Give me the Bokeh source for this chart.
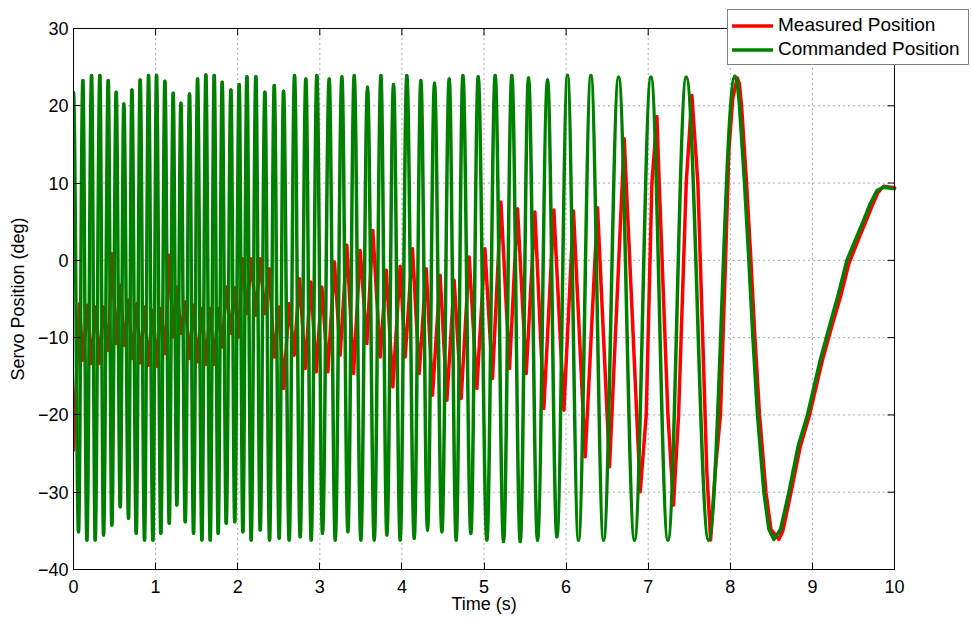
import math
from bokeh.plotting import figure
from bokeh.models import Range1d, FixedTicker, Legend, LegendItem, Title
from bokeh.embed import file_html
from bokeh.resources import INLINE

# ---------------- data ----------------
# Commanded position: successive turning points (peaks / troughs) of the sweep
cmd_time = [0.000, 0.061, 0.114, 0.163, 0.220, 0.264, 0.321, 0.366, 0.423, 0.467,
            0.520, 0.569, 0.613, 0.670, 0.711, 0.764, 0.812, 0.865, 0.914, 0.967,
            1.011, 1.064, 1.113, 1.166, 1.214, 1.259, 1.308, 1.361, 1.413, 1.462,
            1.511, 1.564, 1.612, 1.665, 1.714, 1.762, 1.811, 1.860, 1.917, 1.964,
            2.018, 2.063, 2.112, 2.164, 2.221, 2.274, 2.331, 2.388, 2.445, 2.505,
            2.558, 2.627, 2.692, 2.761, 2.830, 2.895, 2.964, 3.033, 3.114, 3.188,
            3.269, 3.342, 3.419, 3.500, 3.581, 3.663, 3.744, 3.817, 3.898, 3.979,
            4.060, 4.150, 4.231, 4.312, 4.397, 4.487, 4.576, 4.661, 4.743, 4.840,
            4.929, 5.035, 5.136, 5.238, 5.339, 5.441, 5.542, 5.652, 5.774, 5.888,
            6.017, 6.151, 6.302, 6.456, 6.639, 6.833, 7.033, 7.240, 7.463, 7.735,
            8.056]
cmd_pos = [21.75, -35.10, 23.26, -36.18, 23.90, -36.18, 23.90, -35.53, 23.26, -34.24,
           21.75, -31.87, 20.24, -33.38, 22.05, -35.32, 23.34, -36.18, 23.90, -36.18,
           23.90, -35.32, 23.17, -34.02, 21.62, -31.66, 20.33, -33.81, 21.53, -35.32,
           23.47, -36.18, 23.99, -36.18, 23.90, -35.32, 23.04, -34.02, 22.05, -33.81,
           22.74, -35.10, 23.77, -36.18, 23.77, -34.88, 21.75, -36.18, 22.61, -35.96,
           21.88, -36.18, 23.90, -35.75, 23.47, -36.18, 23.90, -35.32, 23.47, -36.18,
           23.77, -35.10, 23.90, -36.18, 22.40, -36.18, 23.90, -35.53, 22.74, -36.18,
           23.90, -35.96, 23.26, -34.88, 22.91, -35.10, 23.47, -36.18, 23.90, -35.32,
           23.77, -36.18, 23.90, -36.39, 23.90, -36.39, 23.60, -36.18, 23.34, -35.75,
           23.90, -36.18, 23.90, -36.18, 23.69, -36.18, 23.69, -36.18, 23.69, -36.18,
           23.80]
# Commanded position: final slow swing and return, read point by point
cmd_tail_time = [8.056, 8.084, 8.112, 8.173, 8.226, 8.275, 8.331, 8.409, 8.470, 8.531,
                 8.612, 8.714, 8.827, 8.940, 9.095, 9.217, 9.318, 9.420, 9.521, 9.623,
                 9.704, 9.786, 9.867, 10.000]
cmd_tail_pos = [23.80, 23.10, 20.00, 10.00, 0.00, -10.00, -20.00, -30.00, -34.80, -36.10,
                -34.80, -30.00, -24.00, -20.00, -12.92, -8.18, -4.31, 0.00, 2.58, 5.17,
                7.32, 9.04, 9.47, 9.26]

meas_time = [0.000, 0.073, 0.114, 0.171, 0.220, 0.272, 0.321, 0.366, 0.423, 0.467,
             0.520, 0.569, 0.618, 0.670, 0.715, 0.772, 0.812, 0.865, 0.914, 0.967,
             1.015, 1.064, 1.117, 1.166, 1.218, 1.259, 1.308, 1.361, 1.413, 1.462,
             1.511, 1.564, 1.612, 1.665, 1.714, 1.762, 1.811, 1.860, 1.917, 1.960,
             2.010, 2.059, 2.112, 2.164, 2.221, 2.274, 2.327, 2.384, 2.445, 2.505,
             2.558, 2.627, 2.688, 2.753, 2.822, 2.891, 2.956, 3.025, 3.098, 3.179,
             3.248, 3.330, 3.411, 3.492, 3.573, 3.646, 3.736, 3.809, 3.890, 3.979,
             4.040, 4.129, 4.211, 4.296, 4.373, 4.466, 4.548, 4.637, 4.722, 4.820,
             4.913, 5.011, 5.104, 5.206, 5.311, 5.408, 5.514, 5.620, 5.729, 5.851,
             5.973, 6.090, 6.233, 6.383, 6.529, 6.708, 6.903, 6.976, 7.045, 7.106,
             7.134, 7.240, 7.308, 7.370, 7.463, 7.532, 7.605, 7.693, 7.713, 7.760,
             7.818, 7.880, 7.942, 7.983, 8.030, 8.084, 8.110, 8.137, 8.198, 8.251,
             8.300, 8.356, 8.434, 8.495, 8.592, 8.640, 8.740, 8.850, 8.965, 9.120,
             9.240, 9.345, 9.445, 9.545, 9.645, 9.725, 9.800, 9.870, 10.000]
meas_pos = [-24.55, -5.60, -12.92, -5.81, -13.35, -6.03, -13.35, -6.03, -11.63, 0.86,
            -10.77, -3.23, -10.98, -5.17, -12.70, -5.60, -13.26, -6.03, -13.57, -6.46,
            -13.70, -6.24, -12.06, 0.65, -9.91, -3.44, -9.47, -5.38, -12.70, -5.81,
            -13.13, -6.24, -13.44, -6.24, -13.44, -6.24, -11.20, -3.44, -9.47, -3.55,
            -9.91, 0.22, -6.89, 0.22, -7.10, 0.22, -6.89, -1.08, -12.49, -6.03,
            -16.58, -5.60, -12.27, -2.37, -13.99, -2.80, -14.42, -3.44, -14.42, -0.22,
            -12.27, 1.94, -14.64, 1.29, -10.77, 3.87, -12.49, -1.29, -16.36, -0.75,
            -12.49, 1.51, -14.64, -1.08, -17.44, -1.94, -18.09, -2.58, -17.87, 0.43,
            -16.58, 1.51, -15.29, 7.54, -13.99, 6.68, -14.64, 6.24, -19.17, 6.50,
            -19.38, 6.37, -25.41, 6.80, -26.70, 15.72, -29.93, -20.00, 10.00, 18.61,
            10.00, -20.00, -31.66, -20.00, 10.00, 21.32, 10.00, -20.00, -27.10, -36.18,
            -27.10, -20.00, 0.00, 14.30, 21.00, 23.60, 22.90, 20.00, 10.00, 0.00,
            -10.00, -20.00, -30.00, -34.80, -36.10, -35.00, -30.00, -24.20, -20.00, -13.00,
            -8.40, -4.60, -0.40, 2.30, 4.90, 7.00, 8.80, 9.60, 9.40]

x_ticks = [0, 1, 2, 3, 4, 5, 6, 7, 8, 9, 10]
y_ticks = [-40, -30, -20, -10, 0, 10, 20, 30]
y_tick_labels = ["\u221240", "\u221230", "\u221220", "\u221210", "0", "10", "20", "30"]
x_label = "Time (s)"
y_label = "Servo Position (deg)"
series_names = ["Measured Position", "Commanded Position"]
series_colors = ["#ff0000", "#008000"]

FONT = "Liberation Sans"
FS = "18px"
LW = 3.5
TICK = 7

# layout: the frame runs to the right and top edges of the page so that the
# legend (which sits partly outside the axes box) is not clipped; the visible
# axes box is x 0..10, y -40..30
X_END = 10.95
Y_END = 33.62
x0_, x1_ = x_ticks[0], x_ticks[-1]
y0_, y1_ = y_ticks[0], y_ticks[-1]

p = figure(width=972, height=621, output_backend="svg", toolbar_location=None,
           x_range=Range1d(x0_, X_END), y_range=Range1d(y0_, Y_END),
           min_border_left=73, min_border_right=0, min_border_top=0,
           min_border_bottom=52, background_fill_color="white",
           border_fill_color="white")
p.outline_line_color = None
p.xgrid.visible = False
p.ygrid.visible = False

for ax, ticks, bnds in ((p.xaxis[0], x_ticks, (x0_, x1_)), (p.yaxis[0], y_ticks, (y0_, y1_))):
    ax.ticker = FixedTicker(ticks=ticks)
    ax.bounds = bnds
    ax.major_tick_in = TICK
    ax.major_tick_out = 0
    ax.minor_tick_in = 0
    ax.minor_tick_out = 0
    ax.axis_line_color = "black"
    ax.major_tick_line_color = "black"
    ax.major_label_text_font = FONT
    ax.major_label_text_font_size = FS
    ax.major_label_text_color = "black"

p.xaxis[0].major_label_standoff = 10
p.yaxis[0].major_label_standoff = 5
p.yaxis[0].major_label_overrides = {t: s for t, s in zip(y_ticks, y_tick_labels)}

# axis titles, centred under / beside the axes box (not the wider frame)
p.add_layout(Title(text=x_label, align="left", offset=378, vertical_align="top",
                   standoff=-3, text_font=FONT, text_font_size=FS,
                   text_font_style="normal", text_color="black"), "below")
p.add_layout(Title(text=y_label, align="left", offset=189, vertical_align="middle",
                   standoff=12, text_font=FONT, text_font_size=FS,
                   text_font_style="normal", text_color="black"), "left")

# dotted grid inside the axes box
p.segment(x0=x_ticks, y0=[y0_] * len(x_ticks), x1=x_ticks, y1=[y1_] * len(x_ticks),
          line_color="#444444", line_dash="1 4", line_width=1, line_alpha=0.9)
p.segment(x0=[x0_] * len(y_ticks), y0=y_ticks, x1=[x1_] * len(y_ticks), y1=y_ticks,
          line_color="#444444", line_dash="1 4", line_width=1, line_alpha=0.9)

# measured position
r_meas = p.line(meas_time, meas_pos, line_color=series_colors[0], line_width=LW,
                line_join="round", line_cap="round")

# commanded position: smooth half-wave between successive turning points
K = 0.364
bx0 = cmd_time[:-1]
bx1 = cmd_time[1:]
by0 = cmd_pos[:-1]
by1 = cmd_pos[1:]
cx0 = [a + K * (b - a) for a, b in zip(bx0, bx1)]
cx1 = [b - K * (b - a) for a, b in zip(bx0, bx1)]
r_cmd = p.bezier(x0=bx0, y0=by0, x1=bx1, y1=by1, cx0=cx0, cy0=by0, cx1=cx1, cy1=by1,
                 line_color=series_colors[1], line_width=LW, line_cap="round")
r_cmd_tail = p.line(cmd_tail_time, cmd_tail_pos, line_color=series_colors[1],
                    line_width=LW, line_join="round", line_cap="round")

# right and top edges of the axes box, with inward ticks
p.segment(x0=[x1_, x0_], y0=[y0_, y1_], x1=[x1_, x1_], y1=[y1_, y1_],
          line_color="black", line_width=1)
p.ray(x=[x1_] * len(y_ticks), y=y_ticks, length=TICK, length_units="screen",
      angle=math.pi, line_color="black", line_width=1)
p.ray(x=x_ticks, y=[y1_] * len(x_ticks), length=TICK, length_units="screen",
      angle=-math.pi / 2, line_color="black", line_width=1)

legend = Legend(items=[LegendItem(label=series_names[0], renderers=[r_meas]),
                       LegendItem(label=series_names[1], renderers=[r_cmd_tail])],
                location=(654, 504), orientation="vertical",
                border_line_color="black", border_line_width=1,
                background_fill_color="white", background_fill_alpha=1.0,
                padding=4, spacing=2, margin=0,
                glyph_width=41, glyph_height=19, label_height=19,
                label_width=186, label_standoff=5,
                label_text_font=FONT, label_text_font_size="19px",
                label_text_color="black")
p.add_layout(legend, "center")

open("out.html", "w").write(file_html(p, INLINE))
